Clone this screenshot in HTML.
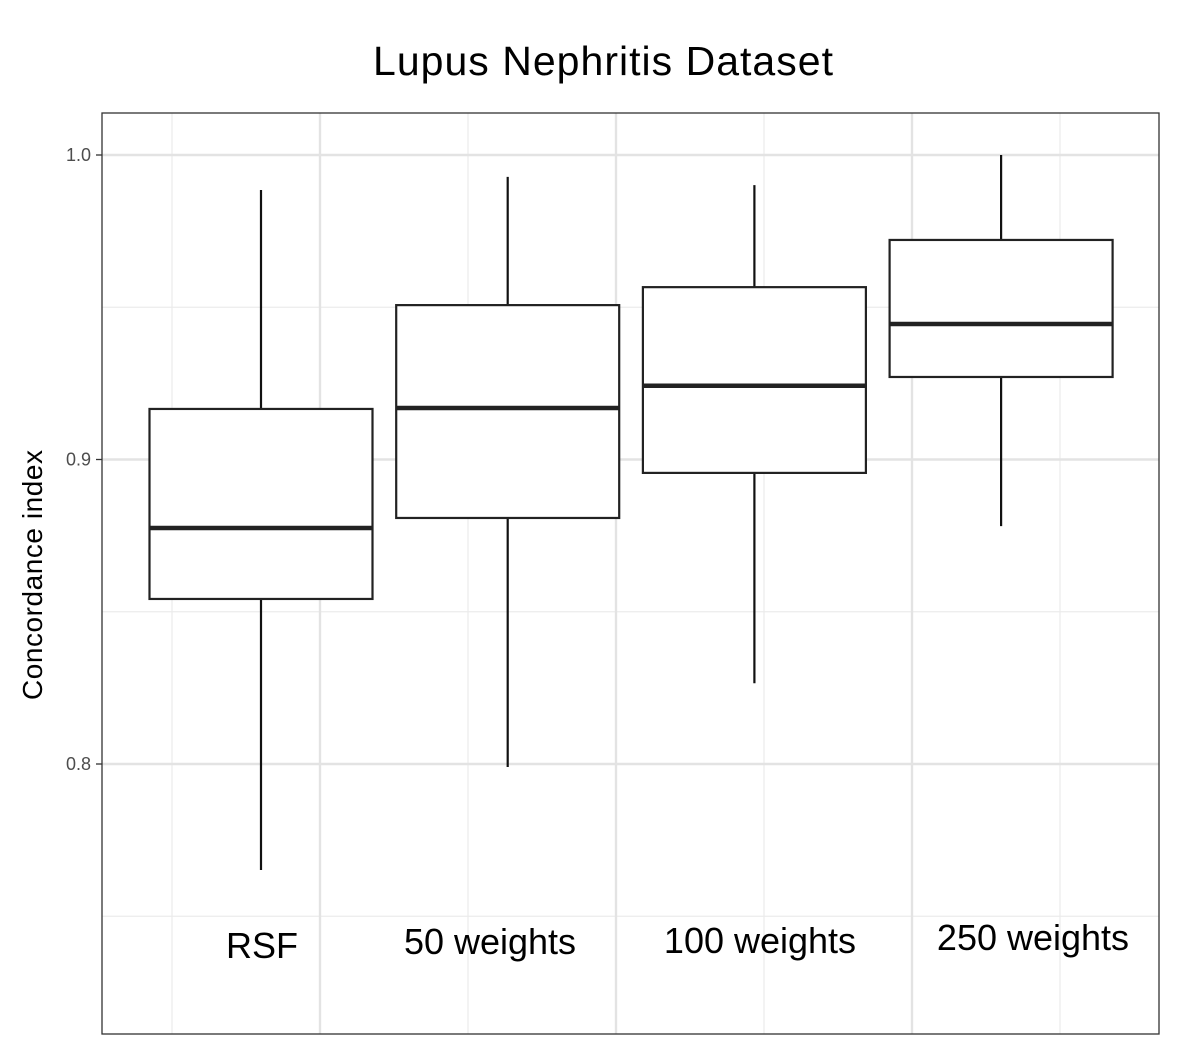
<!DOCTYPE html>
<html><head><meta charset="utf-8"><style>
body{margin:0;background:#fff;}
svg text{font-family:"Liberation Sans",Arial,sans-serif;}
</style></head><body>
<svg width="1181" height="1051" viewBox="0 0 1181 1051" xmlns="http://www.w3.org/2000/svg">
<rect width="1181" height="1051" fill="#fff"/>
<text x="603" y="75" font-size="41" text-anchor="middle" textLength="460">Lupus Nephritis Dataset</text>
<g id="grid"></g>
<g id="boxes"></g>
<rect x="102" y="113" width="1057" height="921" fill="none" stroke="#333" stroke-width="1.3"/>
<g id="yticks"></g>
<text transform="translate(42,575) rotate(-90)" font-size="28" text-anchor="middle" textLength="250">Concordance index</text>
</svg>
<script>
const categories=["RSF","50 weights","100 weights","250 weights"];
const whiskerLow=[0.7652,0.7990,0.8265,0.8781];
const q1=[0.8542,0.8808,0.8956,0.9271];
const medians=[0.8775,0.9169,0.9242,0.9445];
const q3=[0.9166,0.9507,0.9566,0.9721];
const whiskerHigh=[0.9885,0.9928,0.9901,1.0];
const yTicks=[0.8,0.9,1.0];
const yMinor=[0.75,0.85,0.95];
const labelY=[946,942,941,938];
const labelX=[262,490,760,1033];

const ns="http://www.w3.org/2000/svg";
function y(v){return 155+(1.0-v)*3045;}
function x(i){return 261+i*246.7;}
function mk(tag,attrs,parent){const e=document.createElementNS(ns,tag);for(const k in attrs)e.setAttribute(k,attrs[k]);parent.appendChild(e);return e;}
const grid=document.getElementById('grid');
yMinor.forEach(v=>{const l=mk('line',{x1:102,x2:1159,y1:y(v),y2:y(v),stroke:'#ebebeb','stroke-width':1.2},grid);

});
[172,468,764,1060].forEach(px=>{const l=mk('line',{x1:px,x2:px,y1:113,y2:1034,stroke:'#ebebeb','stroke-width':1.2},grid);

});
[320,616,912].forEach(px=>{const l=mk('line',{x1:px,x2:px,y1:113,y2:1034,stroke:'#e3e3e3','stroke-width':2.4},grid);

});
const yt=document.getElementById('yticks');
yTicks.forEach(v=>{const l=mk('line',{x1:102,x2:1159,y1:y(v),y2:y(v),stroke:'#e3e3e3','stroke-width':2.4},grid);


const t=mk('line',{x1:96,x2:102,y1:y(v),y2:y(v),stroke:'#333','stroke-width':1.3},yt);


const tx=mk('text',{x:91,y:y(v)+6,'font-size':18,fill:'#4d4d4d','text-anchor':'end'},yt);
tx.textContent=v.toFixed(1);

});
const bx=document.getElementById('boxes');
categories.forEach((c,i)=>{const cx=x(i),hw=111.5;
const g=mk('g',{},bx);


mk('line',{x1:cx,x2:cx,y1:y(whiskerHigh[i]),y2:y(q3[i]),stroke:'#111','stroke-width':2.2},g);
mk('line',{x1:cx,x2:cx,y1:y(q1[i]),y2:y(whiskerLow[i]),stroke:'#111','stroke-width':2.2},g);
mk('rect',{x:cx-hw,y:y(q3[i]),width:2*hw,height:y(q1[i])-y(q3[i]),fill:'#fff',stroke:'#222','stroke-width':2.2},g);
mk('line',{x1:cx-hw,x2:cx+hw,y1:y(medians[i]),y2:y(medians[i]),stroke:'#222','stroke-width':4.5},g);
const t=mk('text',{x:labelX[i],y:labelY[i]+12,'font-size':36,'text-anchor':'middle'},bx);
t.textContent=c;

});
</script>
</body></html>
